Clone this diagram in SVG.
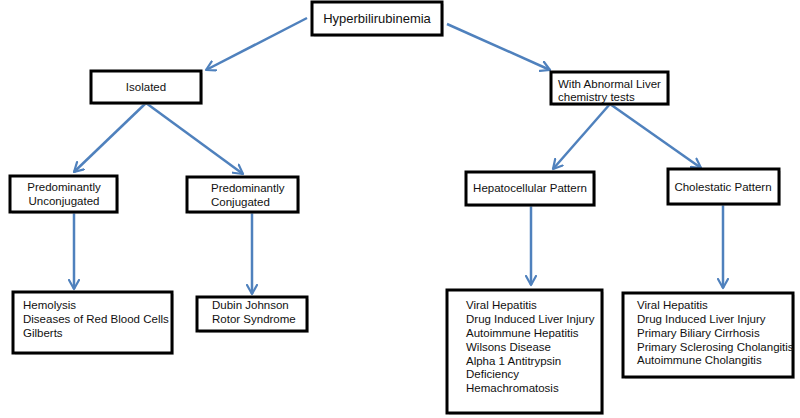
<svg xmlns="http://www.w3.org/2000/svg" width="800" height="418" viewBox="0 0 800 418">
<defs>
<marker id="ah" viewBox="0 0 12 12" refX="10" refY="6" markerWidth="12" markerHeight="12" markerUnits="userSpaceOnUse" orient="auto">
<polyline points="1,1 10,6 1,11" fill="none" stroke="#4F81BD" stroke-width="2.2" stroke-linecap="round" stroke-linejoin="round"/>
</marker>
</defs>
<style>
.box{fill:#fff;stroke:#000;stroke-width:3}
.sh{fill:#bbb;opacity:0.5}
.t{font-family:"Liberation Sans",Arial,sans-serif;font-size:11.5px;fill:#111}
.c{text-anchor:middle}
.ln{stroke:#4F81BD;stroke-width:2.5;fill:none;marker-end:url(#ah)}
</style>
<rect width="800" height="418" fill="#fff"/>
<g id="connectors">
<line class="ln" x1="307" y1="18" x2="206" y2="70"/>
<line class="ln" x1="447" y1="24" x2="550" y2="70"/>
<line class="ln" x1="146" y1="103" x2="74" y2="172"/>
<line class="ln" x1="146" y1="103" x2="243" y2="174"/>
<line class="ln" x1="74" y1="212" x2="74" y2="289"/>
<line class="ln" x1="252" y1="212" x2="252" y2="294"/>
<line class="ln" x1="610" y1="104" x2="553" y2="169"/>
<line class="ln" x1="610" y1="104" x2="701" y2="168"/>
<line class="ln" x1="531" y1="205" x2="531" y2="285"/>
<line class="ln" x1="723" y1="204" x2="723" y2="288"/>
</g>
<g id="hyperbilirubinemia">
<rect class="sh" x="314" y="4" width="130" height="33"/>
<rect class="box" x="312" y="2" width="130" height="33"/>
<text class="t c" x="377" y="23" style="font-size:13px">Hyperbilirubinemia</text>
</g>
<g id="isolated">
<rect class="sh" x="93" y="73" width="110" height="32"/>
<rect class="box" x="91" y="71" width="110" height="32"/>
<text class="t c" x="146" y="91">Isolated</text>
</g>
<g id="abnormal">
<rect class="sh" x="553" y="74" width="117" height="32"/>
<rect class="box" x="551" y="72" width="117" height="32"/>
<text class="t" x="558" y="88">With Abnormal Liver</text>
<text class="t" x="558" y="101">chemistry tests</text>
</g>
<g id="unconjugated">
<rect class="sh" x="12" y="178" width="107" height="36"/>
<rect class="box" x="10" y="176" width="107" height="36"/>
<text class="t c" x="64" y="191">Predominantly</text>
<text class="t c" x="64" y="205">Unconjugated</text>
</g>
<g id="conjugated">
<rect class="sh" x="189" y="179" width="111" height="35"/>
<rect class="box" x="187" y="177" width="111" height="35"/>
<text class="t" x="211" y="192">Predominantly</text>
<text class="t" x="211" y="206">Conjugated</text>
</g>
<g id="hepatocellular">
<rect class="sh" x="468" y="174" width="128" height="33"/>
<rect class="box" x="466" y="172" width="128" height="33"/>
<text class="t c" x="530" y="192">Hepatocellular Pattern</text>
</g>
<g id="cholestatic">
<rect class="sh" x="670" y="171" width="111" height="35"/>
<rect class="box" x="668" y="169" width="111" height="35"/>
<text class="t c" x="723" y="191">Cholestatic Pattern</text>
</g>
<g id="hemolysis">
<rect class="sh" x="15" y="294" width="159" height="61"/>
<rect class="box" x="13" y="292" width="159" height="61"/>
<text class="t" x="23" y="309">Hemolysis</text>
<text class="t" x="23" y="323">Diseases of Red Blood Cells</text>
<text class="t" x="23" y="337">Gilberts</text>
</g>
<g id="dubin">
<rect class="sh" x="199" y="299" width="110" height="34"/>
<rect class="box" x="197" y="297" width="110" height="34"/>
<text class="t" x="212" y="309">Dubin Johnson</text>
<text class="t" x="212" y="323">Rotor Syndrome</text>
</g>
<g id="hepato-list">
<rect class="sh" x="449" y="292" width="155" height="123"/>
<rect class="box" x="447" y="290" width="155" height="123"/>
<text class="t" x="466" y="309">Viral Hepatitis</text>
<text class="t" x="466" y="323">Drug Induced Liver Injury</text>
<text class="t" x="466" y="337">Autoimmune Hepatitis</text>
<text class="t" x="466" y="351">Wilsons Disease</text>
<text class="t" x="466" y="365">Alpha 1 Antitrypsin</text>
<text class="t" x="466" y="378">Deficiency</text>
<text class="t" x="466" y="392">Hemachromatosis</text>
</g>
<g id="chole-list">
<rect class="sh" x="625" y="295" width="170" height="84"/>
<rect class="box" x="623" y="293" width="170" height="84"/>
<text class="t" x="637" y="309">Viral Hepatitis</text>
<text class="t" x="637" y="323">Drug Induced Liver Injury</text>
<text class="t" x="637" y="337">Primary Biliary Cirrhosis</text>
<text class="t" x="637" y="351">Primary Sclerosing Cholangitis</text>
<text class="t" x="637" y="364">Autoimmune Cholangitis</text>
</g>
</svg>
